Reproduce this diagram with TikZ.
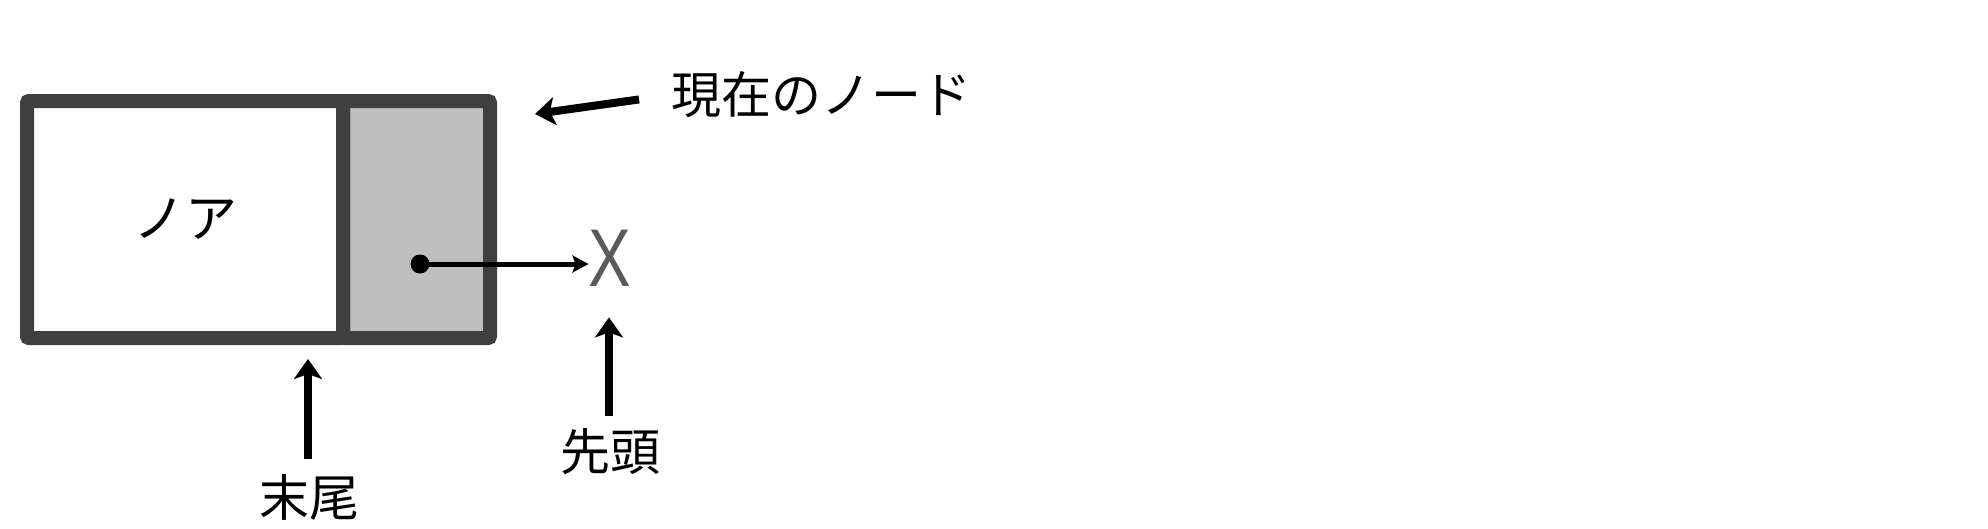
\documentclass[tikz,border=0pt]{standalone}
\usepackage{fontspec}
\newfontfamily\jp{Noto Sans CJK JP}
\setsansfont{Liberation Sans}
\usetikzlibrary{arrows.meta}
\definecolor{frame}{HTML}{3F3F3F}
\definecolor{cellgray}{HTML}{BEBEBE}
\definecolor{xgray}{HTML}{5A5A5A}
\begin{document}
\begin{tikzpicture}[x=1pt,y=-1pt,
  cell/.style={draw=frame, line width=14pt, rectangle, inner sep=0pt, minimum height=237pt, rounded corners=2pt},
  lbl/.style={font=\jp\fontsize{50}{50}\selectfont, inner sep=0pt, text=black},
  bigarrow/.style={draw=black, line width=8pt, -{Stealth[length=20pt,width=28pt,inset=5pt]}},
  ptr/.style={draw=black, line width=5pt, -{Stealth[length=16pt,width=17pt,inset=3pt]}}]
\useasboundingbox (0,0) rectangle (1988,528);
\fill[white] (0,0) rectangle (1988,528);
% node cells
\node[cell, fill=cellgray, minimum width=147pt] (next) at (416.5,219.5) {};
\node[cell, fill=white, minimum width=316pt, font=\jp\fontsize{52}{52}\selectfont] (data) at (185,219.5) {\raisebox{2pt}{ノア}};
% pointer
\node[circle, fill=black, minimum size=19pt, inner sep=0pt] (dot) at (420,264) {};
\node[inner sep=0pt, text=xgray, xscale=0.78, font=\sffamily\fontsize{82}{82}\selectfont] (X) at (610,258) {X};
\draw[ptr] (dot.center) -- (dot.center -| X.west);
% labels
\node[lbl] (cur) at (821,95) {現在のノード};
\node[lbl] (tailtxt) at (309,497) {末尾};
\node[lbl] (headtxt) at (610,452) {先頭};
\coordinate (curtip) at (535,114);
\coordinate (tailfrom) at (308,459);
\coordinate (headfrom) at (609,416);
\draw[bigarrow, shorten <=32pt] (cur.west) -- (curtip);
\draw[bigarrow, shorten >=14pt] (tailfrom) -- (tailfrom |- data.south);
\draw[bigarrow, shorten >=31pt] (headfrom) -- (headfrom |- X.south);
\end{tikzpicture}
\end{document}
